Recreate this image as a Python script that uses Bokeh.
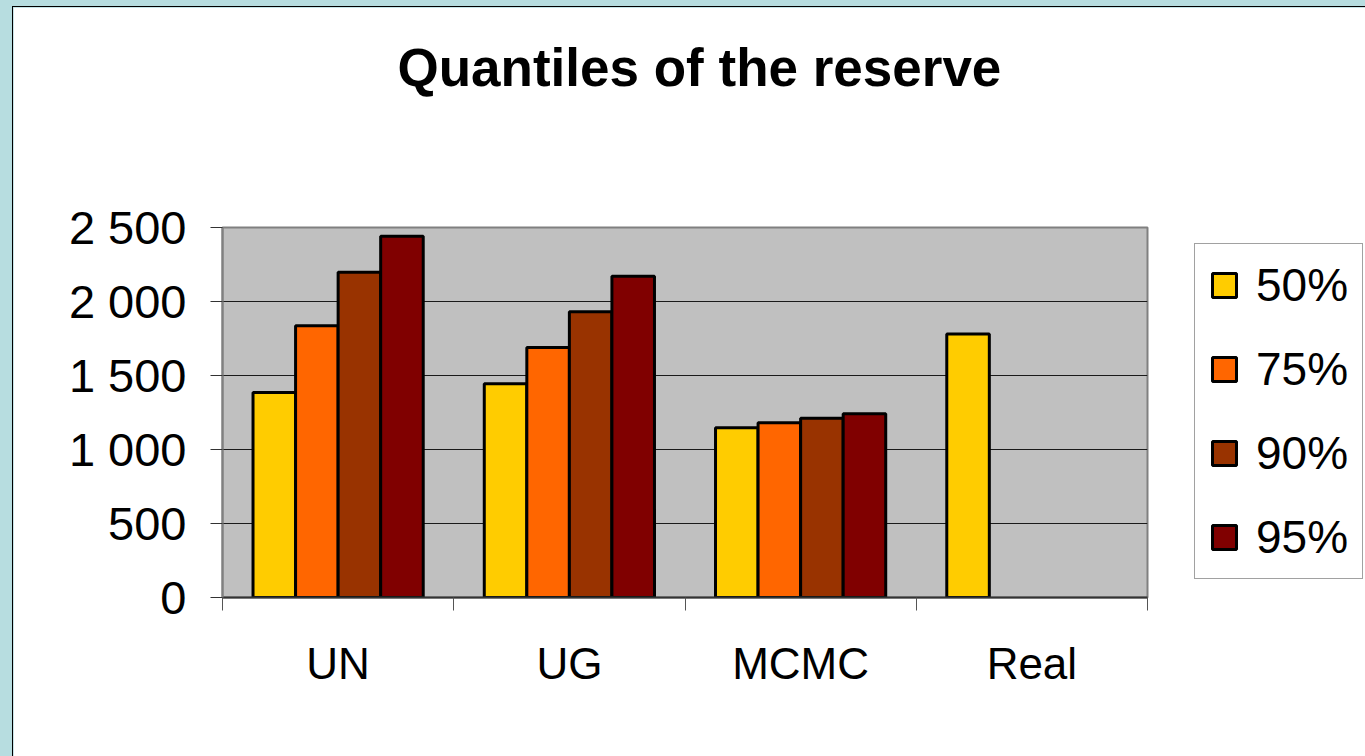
from bokeh.plotting import figure
from bokeh.models import (ColumnDataSource, Range1d, FixedTicker, Legend, LegendItem, Title)
from bokeh.layouts import column
from bokeh.embed import file_html
from bokeh.resources import INLINE

# ---- data ----
categories = ["UN", "UG", "MCMC", "Real"]
series_names = ["50%", "75%", "90%", "95%"]
q50 = [1385, 1445, 1147, 1780]
q75 = [1836, 1689, 1181, None]
q90 = [2197, 1931, 1211, None]
q95 = [2441, 2170, 1242, None]
y_ticks = [0, 500, 1000, 1500, 2000, 2500]
y_tick_labels = ["0", "500", "1 000", "1 500", "2 000", "2 500"]

colors = ["#FFCC00", "#FF6600", "#993300", "#800000"]
FONT = "Liberation Sans"

p = figure(width=1352, height=749, output_backend="svg", toolbar_location=None,
           x_range=Range1d(0, len(categories)), y_range=Range1d(0, 2500),
           frame_width=924, frame_height=369,
           min_border_left=209, min_border_right=219, min_border_top=220, min_border_bottom=160,
           background_fill_color="#C0C0C0", border_fill_color="white")
p.title = None
# spacer between frame and title (closest to the frame)
p.add_layout(Title(text=" ", text_font_size="1px", standoff=128), "above")
p.add_layout(Title(text="Quantiles of the reserve", align="left", offset=175,
                   text_font=FONT, text_font_size="53px", text_font_style="bold",
                   text_color="black", standoff=0), "above")

p.outline_line_color = "#808080"
p.outline_line_width = 2

bar_w = 0.184
offsets = [-1.5 * bar_w, -0.5 * bar_w, 0.5 * bar_w, 1.5 * bar_w]
all_series = [q50, q75, q90, q95]
renderers = []
for name, vals, off, col in zip(series_names, all_series, offsets, colors):
    xs, tops = [], []
    for i, v in enumerate(vals):
        if v is not None:
            xs.append(i + 0.5 + off)
            tops.append(v)
    src = ColumnDataSource(dict(x=xs, top=tops))
    r = p.vbar(x="x", top="top", width=bar_w, bottom=0, source=src,
               fill_color=col, line_color="black", line_width=3)
    renderers.append(r)

# grid
p.xgrid.visible = False
p.ygrid.ticker = FixedTicker(ticks=y_ticks)
p.ygrid.grid_line_color = "#1a1a1a"
p.ygrid.grid_line_width = 1

# y axis
ya = p.yaxis[0]
ya.ticker = FixedTicker(ticks=y_ticks)
ya.major_label_overrides = {t: l for t, l in zip(y_ticks, y_tick_labels)}
ya.major_label_text_font = FONT
ya.major_label_text_font_size = "47px"
ya.major_label_text_color = "black"
ya.major_tick_out = 12
ya.major_tick_in = 0
ya.major_tick_line_color = "#333333"
ya.minor_tick_line_color = None
ya.axis_line_color = "#808080"
ya.axis_line_width = 2
ya.major_label_standoff = 24

# x axis
xa = p.xaxis[0]
centers = [i + 0.5 for i in range(len(categories))]
bounds = [float(i) for i in range(len(categories) + 1)]
xa.ticker = FixedTicker(ticks=centers, minor_ticks=bounds)
xa.major_label_overrides = {c: n for c, n in zip(centers, categories)}
xa.major_label_text_font = FONT
xa.major_label_text_font_size = "44px"
xa.major_label_text_color = "black"
xa.major_tick_line_color = None
xa.major_tick_out = 0
xa.major_tick_in = 0
xa.minor_tick_in = 0
xa.minor_tick_out = 13
xa.minor_tick_line_color = "#555555"
xa.axis_line_color = "#333333"
xa.axis_line_width = 2
xa.major_label_standoff = 28

# legend
legend = Legend(items=[LegendItem(label=n, renderers=[r]) for n, r in zip(series_names, renderers)],
                location=(47, 18), orientation="vertical",
                label_text_font=FONT, label_text_font_size="46px", label_text_color="black",
                glyph_width=30, glyph_height=30, label_height=50, spacing=30,
                padding=14, label_standoff=17, margin=0,
                border_line_color="#444444", border_line_width=1,
                background_fill_color="white", background_fill_alpha=1)
p.add_layout(legend, "right")

p.styles = {"border-left": "1px solid black", "border-top": "1px solid black"}
layout = column(p, styles={"background-color": "#B7DDE0", "padding-left": "12px", "padding-top": "6px"})

open("out.html", "w").write(file_html(layout, INLINE))
